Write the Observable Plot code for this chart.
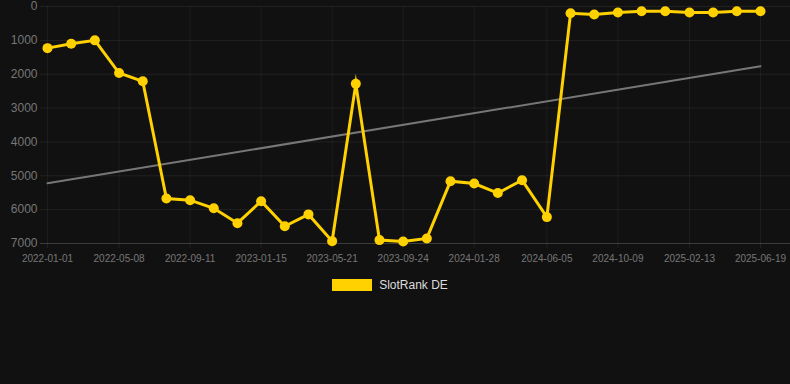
<!DOCTYPE html>
<html>
<head>
<meta charset="utf-8">
<script src="https://cdn.jsdelivr.net/npm/d3@7"></script>
<script src="https://cdn.jsdelivr.net/npm/@observablehq/plot@0.6"></script>
<style>
  html, body { margin: 0; padding: 0; background: #111111; }
  body { width: 790px; height: 384px; overflow: hidden; font-family: "Liberation Sans", Arial, Helvetica, sans-serif; }
  #legend { display: flex; align-items: center; justify-content: center; padding-right: 10px; margin-top: 10px; height: 14px; }
  #legend .sw { width: 40px; height: 12px; background: #FFD100; margin-right: 7px; }
  #legend .lb { color: #dddddd; font-size: 12px; }
</style>
</head>
<body>
<div id="chart"></div>
<div id="legend"><span class="sw"></span><span class="lb">SlotRank DE</span></div>
<script>
const dates = [
  "2022-01-01","2022-02-12","2022-03-26","2022-05-08","2022-06-19","2022-07-31",
  "2022-09-11","2022-10-23","2022-12-04","2023-01-15","2023-02-26","2023-04-09",
  "2023-05-21","2023-07-02","2023-08-13","2023-09-24","2023-11-05","2023-12-17",
  "2024-01-28","2024-03-10","2024-04-22","2024-06-05","2024-07-17","2024-08-28",
  "2024-10-09","2024-11-20","2025-01-01","2025-02-13","2025-03-27","2025-05-08",
  "2025-06-19"
];
const ranks = [
  1230, 1100, 1000, 1965, 2210, 5670,
  5720, 5960, 6400, 5750, 6490, 6140,
  6930, 2280, 6900, 6940, 6850, 5160,
  5230, 5510, 5130, 6220, 200, 235,
  177, 139, 139, 177, 177, 139,
  139
];
const xTickLabels = ["2022-01-01","2022-05-08","2022-09-11","2023-01-15","2023-05-21","2023-09-24","2024-01-28","2024-06-05","2024-10-09","2025-02-13","2025-06-19"];
const yTicks = [0, 1000, 2000, 3000, 4000, 5000, 6000, 7000];
const seriesName = "SlotRank DE";

const parse = d3.utcParse("%Y-%m-%d");
const data = dates.map((d, i) => ({date: parse(d), rank: ranks[i]}));
const xTicks = xTickLabels.map(parse);

const chart = Plot.plot({
  width: 790,
  height: 268,
  marginTop: 6,
  marginBottom: 25,
  marginLeft: 40,
  marginRight: 0,
  style: {background: "#111111", color: "#777777", fontFamily: "'Liberation Sans', Arial, Helvetica, sans-serif"},
  x: {type: "utc", domain: [xTicks[0], xTicks[xTicks.length - 1]], insetLeft: 7, insetRight: 30, label: null},
  y: {domain: [0, 7000], reverse: true, label: null},
  marks: [
    Plot.gridY(yTicks, {stroke: "#ffffff", strokeOpacity: 0.07}),
    Plot.gridX(xTicks, {stroke: "#ffffff", strokeOpacity: 0.05}),
    Plot.ruleY([7000], {stroke: "#ffffff", strokeOpacity: 0.12}),
    Plot.axisX(xTicks, {label: null, tickFormat: d3.utcFormat("%Y-%m-%d"), tickSize: 5, stroke: "#ffffff", strokeOpacity: 0.07, tickPadding: 6, fontSize: 10, fill: "#777777"}),
    Plot.axisY(yTicks, {label: null, tickSize: 0, tickPadding: 3, fontSize: 12, fill: "#777777", tickFormat: d => String(d)}),
    Plot.linearRegressionY(data, {x: "date", y: "rank", ci: 0, stroke: "#777777", strokeWidth: 2}),
    Plot.line(data, {x: "date", y: "rank", stroke: "#FFD100", strokeWidth: 3, strokeLinejoin: "miter", strokeMiterlimit: 10}),
    Plot.dot(data, {x: "date", y: "rank", r: 5, fill: "#FFD100", stroke: "none"})
  ]
});
document.getElementById("chart").appendChild(chart);
document.querySelector("#legend .lb").textContent = seriesName;
</script>
</body>
</html>
